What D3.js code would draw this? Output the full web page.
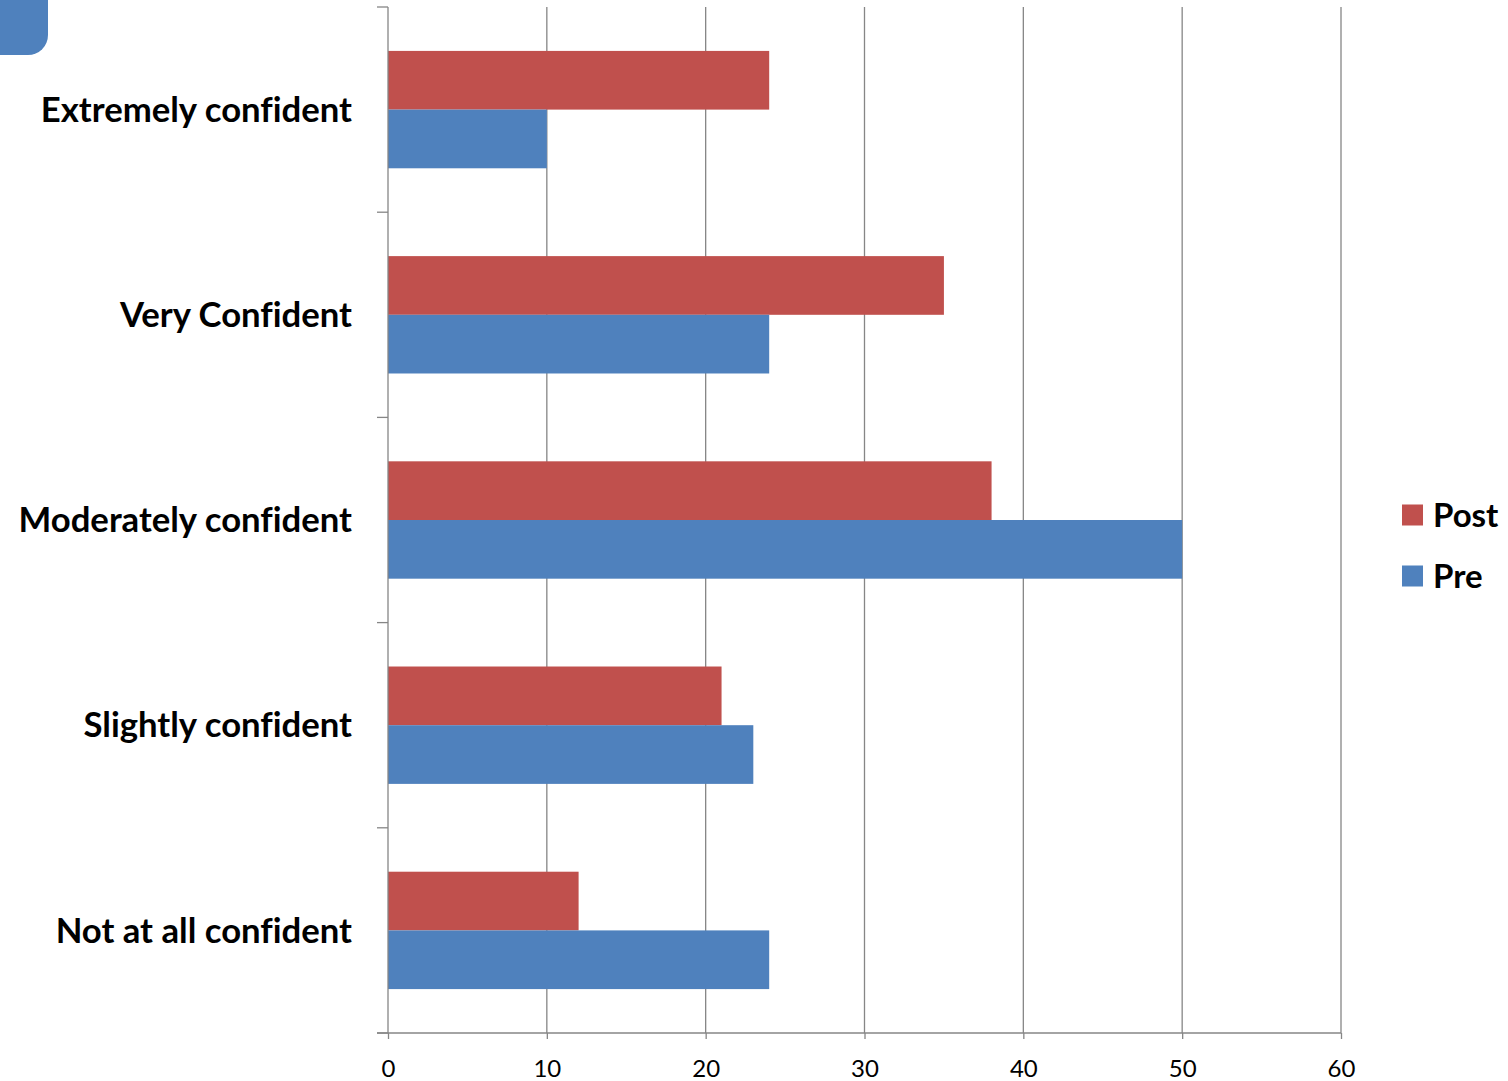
<!DOCTYPE html>
<html><head><meta charset="utf-8">
<script src="https://cdn.jsdelivr.net/npm/d3@7"></script>
<style>body{margin:0;background:#fff}svg{display:block}text{font-variant-ligatures:none}</style>
</head><body>
<script>
const categories = ["Extremely confident","Very Confident","Moderately confident","Slightly confident","Not at all confident"];
const seriesNames = ["Post","Pre"];
const postValues = [24,35,38,21,12];
const preValues = [10,24,50,23,24];
const xTicks = [0,10,20,30,40,50,60];
const colors = {Post:"#C0504D", Pre:"#4F81BD"};

(function(){
const W=1508,H=1081;
const svg=d3.select("body").append("svg").attr("width",W).attr("height",H);
const pL=388,pR=1341,pT=7,pB=1033;
const x=d3.scaleLinear().domain([0,60]).range([pL,pR]);
const y=d3.scaleBand().domain(categories).range([pT,pB]).paddingInner(0.428).paddingOuter(0.214);
const yi=d3.scaleBand().domain(seriesNames).range([0,y.bandwidth()]);
const font="Lato, 'Open Sans', sans-serif";

svg.append("path").attr("d","M0,0 H48 V35 A20,20 0 0 1 28,55 H0 Z").attr("fill","#4F81BD");

svg.append("g").selectAll("line").data(xTicks.slice(1)).join("line")
  .attr("x1",d=>x(d)).attr("x2",d=>x(d)).attr("y1",pT).attr("y2",pB)
  .attr("stroke","#868686").attr("stroke-width",1.3);

const data=[];
categories.forEach((c,i)=>{data.push({c,s:"Post",v:postValues[i]});data.push({c,s:"Pre",v:preValues[i]});});
svg.append("g").selectAll("rect").data(data).join("rect")
  .attr("x",x(0)).attr("y",d=>y(d.c)+yi(d.s)).attr("width",d=>x(d.v)-x(0)).attr("height",yi.bandwidth())
  .attr("fill",d=>colors[d.s]);

const xa=svg.append("g").attr("transform",`translate(0,${pB})`)
  .call(d3.axisBottom(x).tickValues(xTicks).tickSize(6).tickSizeOuter(0));
xa.select(".domain").remove();
xa.selectAll(".tick line").attr("stroke","#868686").attr("stroke-width",1.3);
xa.selectAll("text").attr("font-family",font).attr("font-size",24).attr("fill","#000").attr("dy","0.35em").attr("y",36);
svg.append("line").attr("x1",377).attr("x2",pR).attr("y1",pB).attr("y2",pB).attr("stroke","#868686").attr("stroke-width",1.3);

svg.append("line").attr("x1",pL).attr("x2",pL).attr("y1",pT).attr("y2",pB).attr("stroke","#868686").attr("stroke-width",1.3);
const bounds=d3.range(categories.length+1).map(i=>pT+i*y.step());
svg.append("g").selectAll("line").data(bounds).join("line")
  .attr("x1",377).attr("x2",pL).attr("y1",d=>d).attr("y2",d=>d).attr("stroke","#868686").attr("stroke-width",1.3);
svg.append("g").selectAll("text").data(categories).join("text")
  .attr("x",352).attr("y",d=>y(d)+yi.step()).attr("dy","0.35em").attr("text-anchor","end")
  .attr("font-family",font).attr("font-weight","bold").attr("font-size",34.7).attr("fill","#000").text(d=>d);

const lg=svg.append("g");
seriesNames.forEach((s,i)=>{
  const yy=515+i*61;
  lg.append("rect").attr("x",1402).attr("y",yy-10.5).attr("width",21).attr("height",21).attr("fill",colors[s]);
  lg.append("text").attr("x",1433).attr("y",yy).attr("dy","0.35em").attr("font-family",font).attr("font-weight","bold").attr("font-size",33).attr("fill","#000").text(s);
});
})();
</script>
</body></html>
